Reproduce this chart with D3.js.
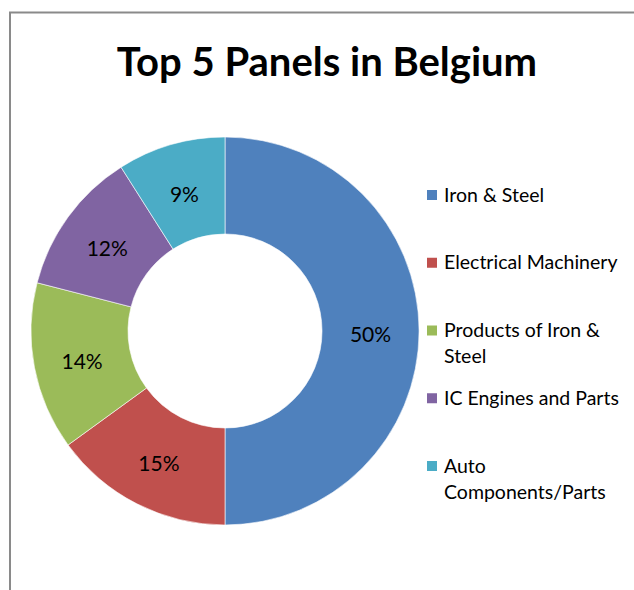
<!DOCTYPE html>
<html>
<head>
<meta charset="utf-8">
<script src="https://cdn.jsdelivr.net/npm/d3@7"></script>
<style>
  body { margin: 0; background: #fff; }
  svg text { font-family: Lato, "Open Sans", sans-serif; fill: #000; }
</style>
</head>
<body>
<div id="chart"></div>
<script>
// data
const categories = ["Iron & Steel", "Electrical Machinery", "Products of Iron & Steel", "IC Engines and Parts", "Auto Components/Parts"];
const shares = [50, 15, 14, 12, 9];
const colours = ["#4F81BD", "#C0504D", "#9BBB59", "#8064A2", "#4BACC6"];
// legend labels wrap as in the original
const legendLines = [["Iron & Steel"], ["Electrical Machinery"], ["Products of Iron &", "Steel"], ["IC Engines and Parts"], ["Auto", "Components/Parts"]];

const width = 634, height = 590;
const cx = 225, cy = 331, outerR = 194, innerR = 97;

const svg = d3.select("#chart")
    .append("svg")
    .attr("width", width)
    .attr("height", height);

// chart area frame (only top and left edges are visible)
svg.append("path")
    .attr("d", `M10,${height} L10,12.5 L${width},12.5`)
    .attr("fill", "none")
    .attr("stroke", "#8a8a8a")
    .attr("stroke-width", 2);

svg.append("text")
    .attr("x", 327)
    .attr("y", 76)
    .attr("text-anchor", "middle")
    .style("font-size", "40px")
    .style("font-weight", "bold")
    .text("Top 5 Panels in Belgium");

const data = categories.map((c, i) => ({ name: c, value: shares[i] }));

const pie = d3.pie()
    .value(d => d.value)
    .sort(null);

const arc = d3.arc()
    .innerRadius(innerR)
    .outerRadius(outerR);

const labelArc = d3.arc()
    .innerRadius((innerR + outerR) / 2)
    .outerRadius((innerR + outerR) / 2);

const color = d3.scaleOrdinal()
    .domain(categories)
    .range(colours);

const g = svg.append("g")
    .attr("transform", `translate(${cx},${cy})`);

const slices = g.selectAll(".slice")
    .data(pie(data))
    .enter()
    .append("g")
    .attr("class", "slice");

slices.append("path")
    .attr("d", arc)
    .attr("fill", d => color(d.data.name))
    .attr("stroke", "#fff")
    .attr("stroke-width", 0.6);

slices.append("text")
    .attr("transform", d => `translate(${labelArc.centroid(d)})`)
    .attr("text-anchor", "middle")
    .attr("dy", "0.5em")
    .style("font-size", "21px")
    .text(d => d.data.value + "%");

// legend
const legendY = d3.scalePoint()
    .domain(categories)
    .range([195, 466]);

const legend = svg.append("g")
    .attr("class", "legend")
    .selectAll(".item")
    .data(categories)
    .enter()
    .append("g")
    .attr("class", "item")
    .attr("transform", d => `translate(427,${legendY(d)})`);

legend.append("rect")
    .attr("x", 0)
    .attr("y", -5)
    .attr("width", 10)
    .attr("height", 10)
    .attr("fill", d => color(d));

legend.append("text")
    .attr("x", 17)
    .attr("y", 6.5)
    .style("font-size", "19.5px")
    .selectAll("tspan")
    .data((d, i) => legendLines[i])
    .enter()
    .append("tspan")
    .attr("x", 17)
    .attr("dy", (d, i) => i === 0 ? 0 : 26)
    .text(d => d);
</script>
</body>
</html>
